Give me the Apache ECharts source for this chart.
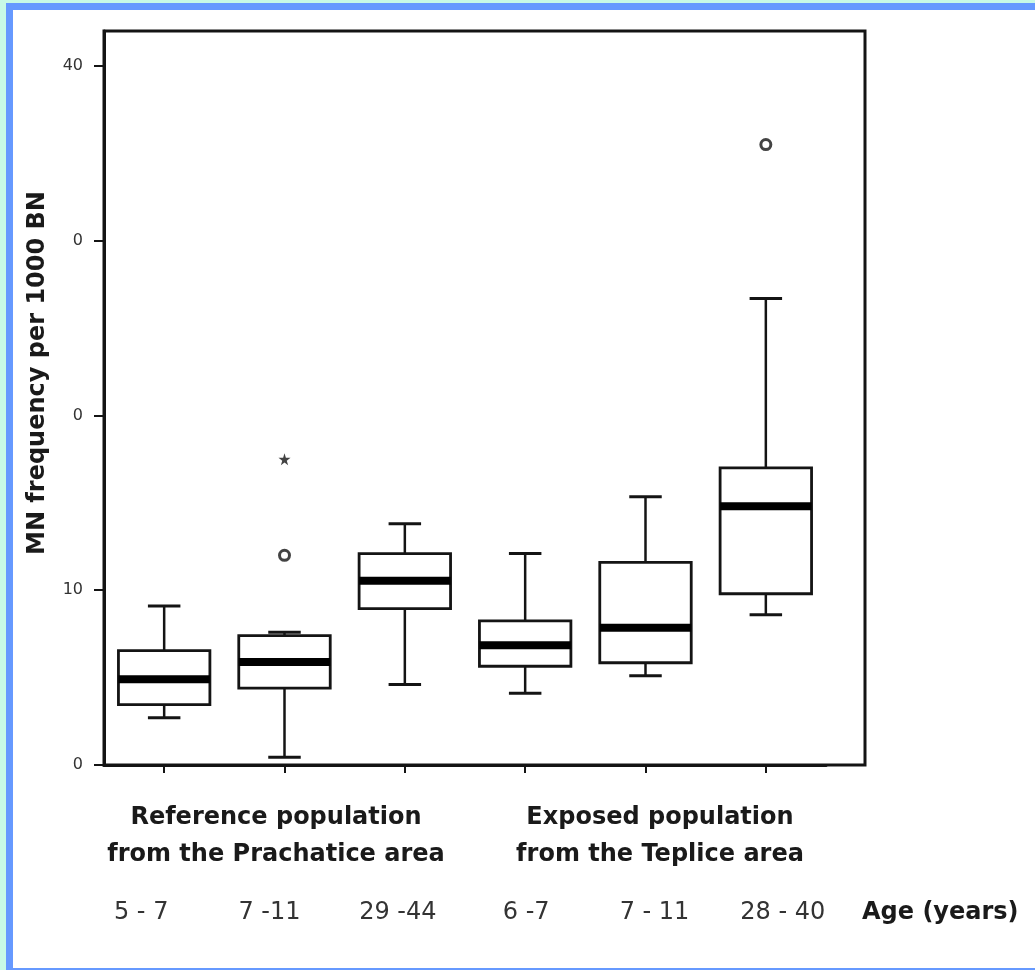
<!DOCTYPE html>
<html>
<head>
<meta charset="utf-8">
<script src="https://cdn.jsdelivr.net/npm/echarts@6/dist/echarts.min.js"></script>
<style>
  html, body { margin: 0; padding: 0; background: #c8fae6; }
  .frame {
    position: absolute; left: 6px; top: 3px; width: 1100px; height: 958px;
    background: #fff;
    border-left: 7px solid #6699ff;
    border-top: 7px solid #6699ff;
    border-bottom: 2px solid #6699ff;
  }
  #chart { position: absolute; left: 0; top: 0; width: 1035px; height: 970px; }
</style>
</head>
<body>
<div class="frame"></div>
<div id="chart"></div>
<script>
// age groups (x categories)
const ageGroups = ['5 - 7', '7 -11', '29 -44', '6 -7', '7 - 11', '28 - 40']
const populations = ['Reference population\nfrom the Prachatice area', 'Exposed population\nfrom the Teplice area']

// box statistics
const whiskerLow = [2.7, 0.45, 4.6, 4.1, 5.1, 8.6]
const q1 = [3.45, 4.4, 8.95, 5.65, 5.85, 9.8]
const median = [4.9, 5.9, 10.55, 6.85, 7.85, 14.8]
const q3 = [6.55, 7.4, 12.1, 8.25, 11.6, 17.0]
const whiskerHigh = [9.1, 7.6, 13.8, 12.1, 15.35, 26.7]

// outliers: [category index, value]
const outlierCircles = [[1, 12.0], [5, 35.5]]
const outlierStars = [[1, 17.5]]

const yTicks = [0, 10, 20, 30, 40]
const yTickLabels = ['0', '10', '0', '0', '40']

const boxData = ageGroups.map((g, i) => [i, whiskerLow[i], q1[i], median[i], q3[i], whiskerHigh[i]])

const ink = '#141414'
const chart = echarts.init(document.getElementById('chart'))

chart.setOption({
  animation: false,
  backgroundColor: 'transparent',
  grid: [
    // frame
    { left: 104, top: 31, width: 761, height: 734, show: true, borderColor: ink, borderWidth: 3, backgroundColor: 'transparent' },
    // boxes
    { left: 104, top: 31, width: 722, height: 734 },
    // age labels
    { left: 77, width: 770, bottom: 57, height: 10 },
    // population labels
    { left: 84, width: 768, bottom: 134, height: 10 }
  ],
  xAxis: [
    { type: 'value', gridIndex: 0, show: false },
    {
      type: 'category',
      gridIndex: 1,
      data: ageGroups,
      axisLine: { show: true, lineStyle: { color: ink, width: 3 } },
      axisTick: { show: true, alignWithLabel: true, length: 8, lineStyle: { color: ink, width: 2 } },
      axisLabel: { show: false }
    },
    {
      type: 'category',
      gridIndex: 2,
      data: ageGroups,
      axisLine: { show: false },
      axisTick: { show: false },
      axisLabel: {
        interval: 0, margin: 0, verticalAlign: 'middle',
        fontFamily: 'DejaVu Sans', fontSize: 24, color: '#333'
      },
      name: 'Age (years)',
      nameLocation: 'end',
      nameGap: 15,
      nameTextStyle: {
        fontFamily: 'DejaVu Sans', fontWeight: 'bold', fontSize: 24, color: '#1a1a1a',
        align: 'left', verticalAlign: 'middle'
      }
    },
    {
      type: 'category',
      gridIndex: 3,
      data: populations,
      axisLine: { show: false },
      axisTick: { show: false },
      axisLabel: {
        interval: 0, margin: 0, verticalAlign: 'middle', lineHeight: 37,
        fontFamily: 'DejaVu Sans', fontWeight: 'bold', fontSize: 24, color: '#1a1a1a'
      }
    }
  ],
  yAxis: [
    { type: 'value', gridIndex: 0, show: false },
    {
      type: 'value',
      gridIndex: 1,
      min: 0,
      max: 42,
      interval: 10,
      splitLine: { show: false },
      axisLine: { show: true, lineStyle: { color: ink, width: 3 } },
      axisTick: { show: true, length: 10, customValues: yTicks, lineStyle: { color: ink, width: 2 } },
      axisLabel: {
        margin: 21,
        customValues: yTicks,
        fontFamily: 'DejaVu Sans', fontSize: 16, color: '#333',
        formatter: v => yTickLabels[yTicks.indexOf(v)] || ''
      }
    },
    { type: 'value', gridIndex: 2, show: false },
    { type: 'value', gridIndex: 3, show: false }
  ],
  graphic: [{
    type: 'text',
    x: 38,
    y: 373,
    rotation: Math.PI / 2,
    style: {
      text: 'MN frequency per 1000 BN',
      font: 'bold 24px "DejaVu Sans"',
      fill: '#1a1a1a',
      textAlign: 'center',
      textVerticalAlign: 'middle'
    }
  }],
  series: [
    {
      type: 'custom',
      xAxisIndex: 1,
      yAxisIndex: 1,
      data: boxData,
      encode: { x: 0, y: [1, 2, 3, 4, 5] },
      renderItem: (params, api) => {
        const x = api.value(0)
        const lo = api.coord([x, api.value(1)])
        const b = api.coord([x, api.value(2)])
        const m = api.coord([x, api.value(3)])
        const t = api.coord([x, api.value(4)])
        const hi = api.coord([x, api.value(5)])
        const band = api.size([1, 0])[0]
        const half = band * 0.38
        const cap = band * 0.135
        const cx = lo[0]
        const line = { stroke: ink, lineWidth: 2.5 }
        return {
          type: 'group',
          children: [
            { type: 'line', shape: { x1: cx, y1: t[1], x2: cx, y2: hi[1] }, style: line },
            { type: 'line', shape: { x1: cx, y1: b[1], x2: cx, y2: lo[1] }, style: line },
            { type: 'line', shape: { x1: cx - cap, y1: hi[1], x2: cx + cap, y2: hi[1] }, style: { stroke: ink, lineWidth: 3 } },
            { type: 'line', shape: { x1: cx - cap, y1: lo[1], x2: cx + cap, y2: lo[1] }, style: { stroke: ink, lineWidth: 3 } },
            { type: 'rect', shape: { x: cx - half, y: t[1], width: half * 2, height: b[1] - t[1] }, style: { fill: '#fff', stroke: ink, lineWidth: 2.8 } },
            { type: 'line', shape: { x1: cx - half, y1: m[1], x2: cx + half, y2: m[1] }, style: { stroke: '#000', lineWidth: 8 } }
          ]
        }
      }
    },
    {
      type: 'scatter',
      xAxisIndex: 1,
      yAxisIndex: 1,
      data: outlierCircles,
      symbol: 'circle',
      symbolSize: 10,
      itemStyle: { color: '#fff', borderColor: ink, borderWidth: 3 }
    },
    {
      type: 'scatter',
      xAxisIndex: 1,
      yAxisIndex: 1,
      data: outlierStars,
      symbol: 'path://M50 0 L61 35 L98 35 L68 57 L79 91 L50 70 L21 91 L32 57 L2 35 L39 35 Z',
      symbolSize: 12,
      itemStyle: { color: ink }
    }
  ]
})
</script>
</body>
</html>
